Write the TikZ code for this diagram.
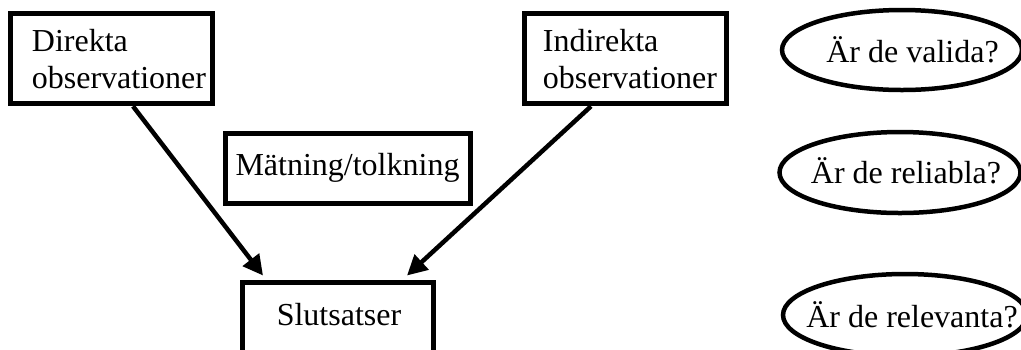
\documentclass[tikz,border=0pt]{standalone}
\usepackage{fontspec}
\setmainfont{Liberation Serif}
\usetikzlibrary{arrows.meta,shapes.geometric}
\tikzset{
  boxnode/.style={draw, line width=2.5pt, inner sep=0pt},
  ovalnode/.style={draw, ellipse, line width=2.25pt, inner sep=0pt},
  txt/.style={inner sep=0pt, font=\fontsize{16pt}{18.5pt}\selectfont},
  multitxt/.style={txt, text width=100pt, align=left, anchor=base west},
  arr/.style={line width=2.25pt, -{Triangle[length=10pt,width=10pt]}}
}
\begin{document}
\begin{tikzpicture}[x=0.5pt,y=-0.5pt]
\useasboundingbox (0,0) rectangle (1021,349);
% boxes
\node[boxnode, minimum width=101pt, minimum height=45.25pt] (d) at (111,58.5) {};
\node[multitxt] (dt) at (31.5,51) {Direkta\\observationer};
\node[boxnode, minimum width=101pt, minimum height=45.25pt] (i) at (625.5,58.5) {};
\node[multitxt] (it) at (542.5,51) {Indirekta\\observationer};
\node[boxnode, txt, minimum width=122.5pt, minimum height=35pt] (m) at (347.5,168) {Mätning/tolkning};
\node[boxnode, minimum width=95.5pt, minimum height=59pt] (s) at (337.5,341) {};
\node[txt, anchor=base] (st) at (339,325) {Slutsatser};
% ellipses
\node[ovalnode, minimum width=120pt, minimum height=40pt] (e1) at (902,50) {};
\node[txt, anchor=base] (t1) at (912.5,62) {Är de valida?};
\node[ovalnode, minimum width=120.5pt, minimum height=40.5pt] (e2) at (900,172.5) {};
\node[txt, anchor=base] (t2) at (906,183) {Är de reliabla?};
\node[ovalnode, minimum width=122pt, minimum height=41pt] (e3) at (905,315) {};
\node[txt, anchor=base] (t3) at (912,327) {Är de relevanta?};
% arrows
\draw[arr] ([xshift=11pt]d.south) -- ([xshift=-37.25pt,yshift=2pt]s.north);
\draw[arr] ([xshift=-17.25pt]i.south) -- ([xshift=34.75pt,yshift=2pt]s.north);
\end{tikzpicture}
\end{document}
